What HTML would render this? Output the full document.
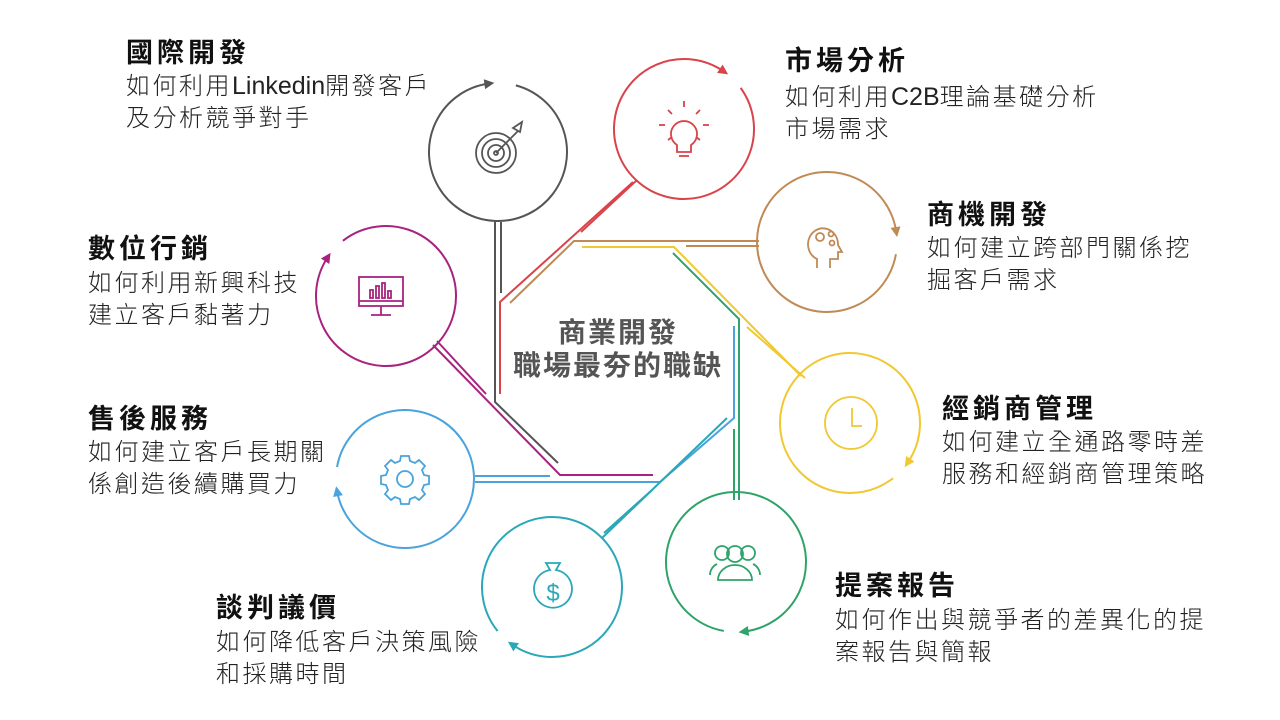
<!DOCTYPE html>
<html><head><meta charset="utf-8"><style>
html,body{margin:0;padding:0;background:#fff}
#w{position:relative;width:1280px;height:720px;overflow:hidden;font-family:"Liberation Sans","Noto Sans CJK TC",sans-serif;color:#222}
.t{position:absolute;font-weight:bold;font-size:27px;line-height:30px;color:#111;letter-spacing:4px;white-space:nowrap}
.b{position:absolute;font-size:24px;line-height:32px;color:#222;white-space:nowrap;letter-spacing:2.5px;font-weight:300}
.l{letter-spacing:0;font-size:25px}
svg{position:absolute;left:0;top:0}
</style></head><body><div id="w">
<svg id="s" width="1280" height="720" viewBox="0 0 1280 720" fill="none" stroke-width="2">
<g stroke="#555"><polyline points="495,222 495,402 558,463"/><line x1="501" y1="222" x2="501" y2="293"/></g>
<g stroke="#d9434a"><polyline points="633,182 500,302 500,394"/><line x1="637" y1="180" x2="581" y2="232"/></g>
<g stroke="#c08a55"><polyline points="759,241 574,241 510,303"/><line x1="686" y1="246" x2="759" y2="246"/></g>
<g stroke="#f0c832"><polyline points="582,247 674,247 801,376"/><line x1="747" y1="327" x2="805" y2="378"/></g>
<g stroke="#2ea36a"><polyline points="673,253 739,319 739,500"/><line x1="734" y1="429" x2="734" y2="500"/></g>
<g stroke="#4aa3dc"><polyline points="475,482 660,482 734,418 734,326"/><line x1="475" y1="476" x2="550" y2="476"/></g>
<g stroke="#2aa8b8"><line x1="727" y1="418" x2="602" y2="538"/><line x1="652" y1="490" x2="604" y2="533"/></g>
<g stroke="#a8237f"><polyline points="433,345 560,475 653,475"/><line x1="437" y1="341" x2="486" y2="394"/></g>
<g stroke="#555" stroke-width="1.8"><circle cx="496" cy="153" r="20"/><circle cx="496" cy="153" r="14"/><circle cx="496" cy="153" r="8"/><circle cx="496" cy="153" r="2"/><line x1="496" y1="153" x2="518" y2="131"/><path d="M513 128 l9 -6 l-2 10 z"/></g>
<g stroke="#d9434a" stroke-width="1.8"><path d="M677 145 a13 13 0 1 1 14 0 v7 h-14 z"/><line x1="684" y1="101" x2="684" y2="107"/><line x1="659" y1="125" x2="665" y2="125"/><line x1="703" y1="125" x2="709" y2="125"/><line x1="668" y1="110" x2="672" y2="114"/><line x1="700" y1="110" x2="696" y2="114"/><line x1="668" y1="140" x2="672" y2="137"/><line x1="700" y1="140" x2="696" y2="137"/><line x1="679" y1="156" x2="689" y2="156"/></g>
<g stroke="#c08a55" stroke-width="1.8"><path d="M817 268 v-9 a15 16 0 1 1 21 -14 l4 7 h-4 v7 h-8 v9"/><circle cx="820" cy="237" r="4"/><circle cx="831" cy="234" r="2.5"/><circle cx="832" cy="243" r="2.5"/></g>
<g stroke="#f0c832" stroke-width="1.8"><circle cx="851" cy="423" r="26"/><polyline points="852,408 852,426 862,426"/></g>
<g stroke="#2ea36a" stroke-width="1.8"><circle cx="735" cy="554" r="8"/><path d="M718 580 a17 15 0 0 1 34 0 z"/><circle cx="722" cy="553" r="7"/><circle cx="748" cy="553" r="7"/><path d="M710 575 a12 12 0 0 1 7 -11"/><path d="M760 575 a12 12 0 0 0 -7 -11"/></g>
<g stroke="#2aa8b8" stroke-width="1.8"><path d="M546 563 h14 l-4 7 a19 19 0 1 1 -6 0 z"/><text x="553" y="601" font-size="24" fill="#2aa8b8" stroke="none" text-anchor="middle" font-family="Liberation Sans">$</text></g>
<g stroke="#4aa3dc" stroke-width="1.8"><circle cx="405" cy="479" r="8"/><path d="M401 456 h8 l1 5 l5 2 l4 -3 l6 6 l-3 4 l2 5 l5 1 v8 l-5 1 l-2 5 l3 4 l-6 6 l-4 -3 l-5 2 l-1 5 h-8 l-1 -5 l-5 -2 l-4 3 l-6 -6 l3 -4 l-2 -5 l-5 -1 v-8 l5 -1 l2 -5 l-3 -4 l6 -6 l4 3 l5 -2 z"/></g>
<g stroke="#a8237f" stroke-width="1.8"><rect x="359" y="277" width="44" height="29"/><line x1="359" y1="301" x2="403" y2="301"/><line x1="381" y1="306" x2="381" y2="315"/><line x1="371" y1="315" x2="391" y2="315"/><rect x="370" y="290" width="3" height="8"/><rect x="376" y="286" width="3" height="12"/><rect x="382" y="283" width="3" height="15"/><rect x="388" y="291" width="3" height="7"/></g>
</svg>
<div style="position:absolute;left:490px;top:316px;width:256px;text-align:center;font-weight:bold;font-size:28px;line-height:33px;color:#555;letter-spacing:2px">商業開發<br>職場最夯的職缺</div>

<div class="t" style="left:126px;top:38px">國際開發</div>
<div class="b" style="left:126px;top:70px">如何利用<span class="l">Linkedin</span>開發客戶<br>及分析競爭對手</div>
<div class="t" style="left:785px;top:46px">市場分析</div>
<div class="b" style="left:785px;top:81px">如何利用<span class="l">C2B</span>理論基礎分析<br>市場需求</div>
<div class="t" style="left:927px;top:200px">商機開發</div>
<div class="b" style="left:927px;top:233px">如何建立跨部門關係挖<br>掘客戶需求</div>
<div class="t" style="left:88px;top:234px">數位行銷</div>
<div class="b" style="left:88px;top:268px">如何利用新興科技<br>建立客戶黏著力</div>
<div class="t" style="left:942px;top:394px">經銷商管理</div>
<div class="b" style="left:942px;top:427px">如何建立全通路零時差<br>服務和經銷商管理策略</div>
<div class="t" style="left:88px;top:404px">售後服務</div>
<div class="b" style="left:88px;top:437px">如何建立客戶長期關<br>係創造後續購買力</div>
<div class="t" style="left:835px;top:571px">提案報告</div>
<div class="b" style="left:835px;top:605px">如何作出與競爭者的差異化的提<br>案報告與簡報</div>
<div class="t" style="left:216px;top:593px">談判議價</div>
<div class="b" style="left:216px;top:627px">如何降低客戶決策風險<br>和採購時間</div>
</div>
<script>
var s=document.getElementById('s'),NS='http://www.w3.org/2000/svg';
var C=[[498,152,69,262,285,'#555'],[684,129,70,304,324,'#d9434a'],[827,242,70,351,370,'#c08a55'],[850,423,70,34,52,'#f0c832'],[736,562,70,83,100,'#2ea36a'],[552,587,70,124,141,'#2aa8b8'],[405,479,69,169,190,'#4aa3dc'],[386,296,70,213,232,'#a8237f']];
function P(cx,cy,r,a){a=a*Math.PI/180;return [cx+r*Math.cos(a),cy+r*Math.sin(a)];}
C.forEach(function(c){var cx=c[0],cy=c[1],r=c[2],g1=c[3],g2=c[4],col=c[5];
var p1=P(cx,cy,r,g2),p2=P(cx,cy,r,g1+360);
var p=document.createElementNS(NS,'path');
p.setAttribute('d','M'+p1[0]+' '+p1[1]+' A'+r+' '+r+' 0 1 1 '+p2[0]+' '+p2[1]);
p.setAttribute('stroke',col);p.setAttribute('stroke-width','2');s.appendChild(p);
var a=g1*Math.PI/180,tx=-Math.sin(a),ty=Math.cos(a),nx=Math.cos(a),ny=Math.sin(a);
var h=P(cx,cy,r,g1),tip=[h[0]+tx*6,h[1]+ty*6],b1=[h[0]-tx*4+nx*5,h[1]-ty*4+ny*5],b2=[h[0]-tx*4-nx*5,h[1]-ty*4-ny*5];
var t=document.createElementNS(NS,'polygon');
t.setAttribute('points',tip.join(',')+' '+b1.join(',')+' '+b2.join(','));
t.setAttribute('fill',col);t.setAttribute('stroke','none');s.appendChild(t);});
</script>
</body></html>
